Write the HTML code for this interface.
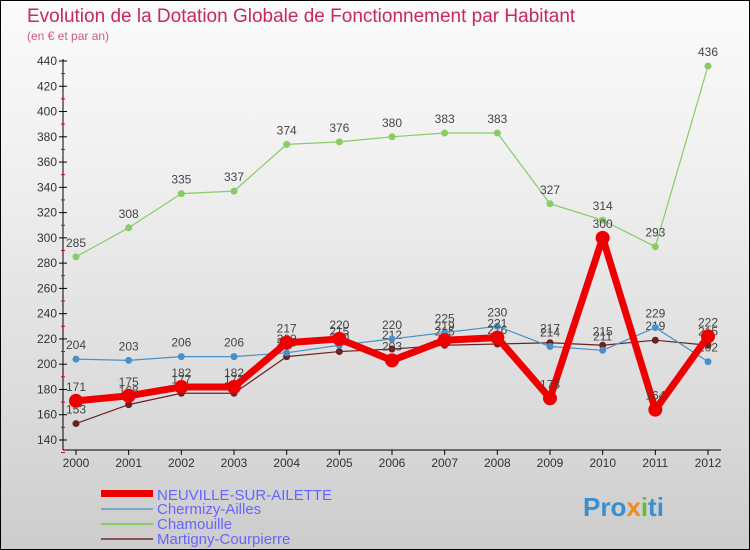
<!DOCTYPE html>
<html><head><meta charset="utf-8"><style>
body{margin:0;}
#c{width:750px;height:550px;position:relative;background:linear-gradient(#fbfbfb,#f0f0f0 30%,#d8d8d8 80%,#cccccc);font-family:"Liberation Sans",sans-serif;overflow:hidden;border:1px solid #000;box-sizing:border-box}
</style></head><body>
<div id="c">
<svg id="s" width="750" height="550" style="position:absolute;left:0;top:0">
<text x="26" y="21" font-size="19" fill="#c8285a">Evolution de la Dotation Globale de Fonctionnement par Habitant</text>
<text x="26" y="39" font-size="12" fill="#d05a80">(en € et par an)</text>
<g id="axes"></g><g id="series"></g>
<g>
<rect x="100" y="489" width="52" height="7" fill="#ee0000"/>
<text x="156" y="499" font-size="15" fill="#6666ff">NEUVILLE-SUR-AILETTE</text>
<rect x="100" y="507" width="52" height="2" fill="#7aa8cc"/>
<text x="156" y="513" font-size="15" fill="#6666ff">Chermizy-Ailles</text>
<rect x="100" y="522" width="52" height="2" fill="#88cc66"/>
<text x="156" y="528" font-size="15" fill="#6666ff">Chamouille</text>
<rect x="100" y="537" width="52" height="2" fill="#885555"/>
<text x="156" y="543" font-size="15" fill="#6666ff">Martigny-Courpierre</text>
</g>
<text x="582" y="515" font-size="26" font-weight="bold" fill="#3a8fd0">Pro<tspan fill="#f08a20">x</tspan><tspan fill="#66bb33">i</tspan>ti</text>
</svg>
</div>
<script>
const years=["2000","2001","2002","2003","2004","2005","2006","2007","2008","2009","2010","2011","2012"];
const neuville=[171,175,182,182,217,220,203,219,221,173,300,164,222];
const chermizy=[204,203,206,206,209,215,220,225,230,214,211,229,202];
const chamouille=[285,308,335,337,374,376,380,383,383,327,314,293,436];
const martigny=[153,168,177,177,206,210,212,215,216,217,215,219,215];
const yTicks=[140,160,180,200,220,240,260,280,300,320,340,360,380,400,420,440];
const NS="http://www.w3.org/2000/svg";
const X=i=>75+i*(632/12), Y=v=>439-(v-140)*(379/300);
function mk(t,a,p){const e=document.createElementNS(NS,t);for(const k in a)e.setAttribute(k,a[k]);p.appendChild(e);return e;}
const ax=document.getElementById('axes'), sg=document.getElementById('series');
let l=mk('line',{x1:62,y1:58,x2:62,y2:449,stroke:'#000'},ax);

l=mk('line',{x1:62,y1:449,x2:720,y2:449,stroke:'#000'},ax);

yTicks.forEach(v=>{const y=Y(v);mk('line',{x1:58,y1:y,x2:66,y2:y,stroke:'#000'},ax);
 mk('line',{x1:60,y1:y+12.6,x2:64,y2:y+12.6,stroke:'#d00'},ax);
 const t=mk('text',{x:56,y:y+4,'font-size':12,fill:'#333','text-anchor':'end'},ax);t.textContent=v;
 });
years.forEach((yr,i)=>{mk('line',{x1:X(i),y1:449,x2:X(i),y2:454,stroke:'#000'},ax);
 const t=mk('text',{x:X(i),y:466,'font-size':12,fill:'#333','text-anchor':'middle'},ax);t.textContent=yr;
 });
function draw(d,name,col,w,r){const g=mk('g',{},sg);
 const p=mk('polyline',{points:d.map((v,i)=>X(i)+','+Y(v)).join(' '),fill:'none',stroke:col,'stroke-width':w,'stroke-linejoin':'round'},g);
 
 d.forEach((v,i)=>{const c=mk('circle',{cx:X(i),cy:Y(v),r:r,fill:col},g);
  
  const t=mk('text',{x:X(i),y:Y(v)-10,'font-size':12,fill:'#444','text-anchor':'middle'},g);t.textContent=v;
  });}
draw(chamouille,'chamouille','#88cc66',1.2,3.5);
draw(martigny,'martigny','#6b2222',1.2,3.5);
draw(chermizy,'chermizy','#4a90c8',1.2,3.5);
draw(neuville,'neuville','#ee0000',7,7);
</script>
</body></html>
